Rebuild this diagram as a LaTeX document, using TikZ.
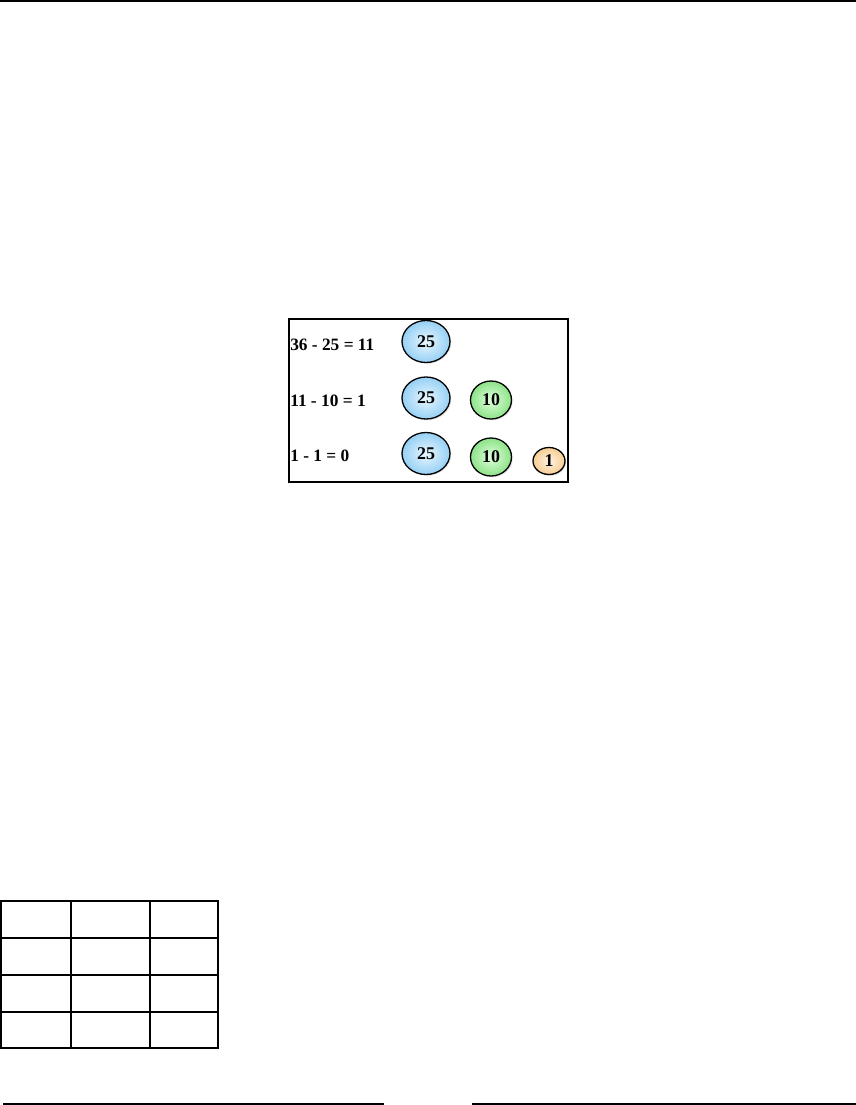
\documentclass[tikz,border=0pt]{standalone}
\usepackage{fontspec}
\setmainfont{Liberation Serif}
\usetikzlibrary{shapes.geometric,shadows}
\newcommand{\pixel}{0.71495pt}
\definecolor{quarterin}{RGB}{232,246,255}
\definecolor{quarterout}{RGB}{150,208,245}
\definecolor{dimein}{RGB}{226,255,222}
\definecolor{dimeout}{RGB}{140,226,136}
\definecolor{pennyin}{RGB}{255,244,226}
\definecolor{pennyout}{RGB}{246,204,146}
\tikzset{
  coin/.style={ellipse,draw,line width=1.3*\pixel,inner sep=0pt,
    font=\bfseries\fontsize{12.8}{14}\selectfont,
    drop shadow={shadow xshift=1.2*\pixel,shadow yshift=-1.2*\pixel,opacity=0.25}},
  quarter/.style={coin,minimum width=48*\pixel,minimum height=42*\pixel,
    inner color=quarterin,outer color=quarterout},
  dime/.style={coin,minimum width=41*\pixel,minimum height=38*\pixel,
    inner color=dimein,outer color=dimeout},
  penny/.style={coin,minimum width=32*\pixel,minimum height=27*\pixel,
    inner color=pennyin,outer color=pennyout},
  sum/.style={anchor=base west,inner sep=0pt,font=\bfseries\fontsize{12.4}{14}\selectfont}
}
\begin{document}
\begin{tikzpicture}[x=\pixel,y=-\pixel]
  \useasboundingbox (0,0) rectangle (856,1105);
  % rules of the page
  \draw[line width=2.2*\pixel] (0,1) -- (856,1);
  \draw[line width=1.5*\pixel] (3,1104) -- (384,1104);
  \draw[line width=1.5*\pixel] (472,1104) -- (856,1104);
  % the box with the change
  \draw[line width=2*\pixel] (289,318.5) rectangle (567.5,482);
  \node[sum] (eq1) at (290,350) {36 - 25 = 11};
  \node[sum] (eq2) at (290,406) {11 - 10 = 1};
  \node[sum] (eq3) at (290,461) {1 - 1 = 0};
  \node[quarter] (q1) at (426,341.5) {25};
  \node[quarter] (q2) at (426,398) {25};
  \node[quarter] (q3) at (426,453.5) {25};
  \node[dime] (d2) at (491,400) {10};
  \node[dime] (d3) at (491,457) {10};
  \node[penny] (p3) at (549,461) {1};
  % empty table
  \foreach \y in {938,975,1012}
    \draw[line width=2.5*\pixel] (1,\y) -- (218,\y);
  \draw[line width=2*\pixel] (71,901) -- (71,1048);
  \draw[line width=1.3*\pixel] (150,901) -- (150,1048);
  \draw[line width=2.5*\pixel] (1,901) rectangle (218,1048);
\end{tikzpicture}
\end{document}
